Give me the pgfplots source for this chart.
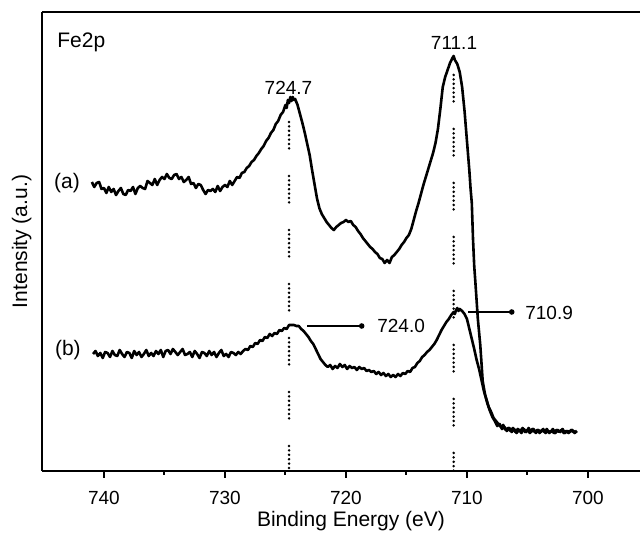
\documentclass[border=0pt]{standalone}
\usepackage{fontspec}
\setmainfont{Liberation Sans}
\usepackage{pgfplots}
\pgfplotsset{compat=1.18}

\pgfplotstableread{
x y
741.0 289
740.8 284
740.6 288
740.4 289
740.2 282
740.0 283
739.8 278
739.6 284
739.4 279
739.2 282
739.0 276
738.8 280
738.6 283
738.4 277
738.2 276
738.0 281
737.8 280
737.6 284
737.4 277
737.2 283
737.0 285
736.8 283
736.6 282
736.4 290
736.2 288
736.0 286
735.8 292
735.6 286
735.4 291
735.2 294
735.0 292
734.8 297
734.6 293
734.4 292
734.2 296
734.0 297
733.8 292
733.6 294
733.4 289
733.2 291
733.0 294
732.8 287
732.6 288
732.4 283
732.2 287
732.0 286
731.8 281
731.6 277
731.4 281
731.2 280
731.0 282
730.8 279
730.6 285
730.4 280
730.2 284
730.0 286
729.8 284
729.6 290
729.4 286
729.2 290
729.0 294
728.8 293
728.6 298
728.4 299
728.2 303
728.0 305
727.8 309
727.6 311
727.4 315
727.2 318
727.0 322
726.8 325
726.6 330
726.4 333
726.2 338
726.0 341
725.8 347
725.6 350
725.4 356
725.2 359
725.0 366
724.9 363
724.8 371
724.7 368
724.6 374
724.5 370
724.4 374
724.3 371
724.2 372
724.0 366
723.8 357
723.6 348
723.4 338
723.2 327
723.0 316
722.8 301
722.6 287
722.4 273
722.2 263
722.0 257
721.8 253
721.6 249
721.4 246
721.2 243
721.0 241
720.8 244
720.6 246
720.4 248
720.2 249
720.0 251
719.8 249
719.6 250
719.4 246
719.2 244
719.0 240
718.8 237
718.6 233
718.4 230
718.2 227
718.0 224
717.8 222
717.6 219
717.4 217
717.2 213
717.0 212
716.8 208
716.6 211
716.4 208
716.2 214
716.0 216
715.8 219
715.6 222
715.4 226
715.2 229
715.0 233
714.8 236
714.6 242
714.4 251
714.2 260
714.0 268
713.8 277
713.6 286
713.4 294
713.2 302
713.0 310
712.8 318
712.6 328
712.4 342
712.2 362
712.0 384
711.8 394
711.6 401
711.4 408
711.2 413
711.1 415
711.0 411
710.8 407
710.6 399
710.4 384
710.2 360
710.0 330
709.8 300
709.7 282
709.6 268
709.5 232
709.4 205
709.3 188
709.1 152
708.9 126
708.7 90
708.5 76
708.3 67
708.1 60
707.9 54
707.7 50
707.5 45
707.3 47
707.1 42
706.9 44
706.7 40
706.5 43
706.3 39
706.1 42
705.9 38
705.7 41
705.5 38
705.3 42
705.1 39
704.9 43
704.7 39
704.5 42
704.3 38
704.1 41
703.9 39
703.7 42
703.5 38
703.3 40
703.1 39
702.9 42
702.7 38
702.5 41
702.3 39
702.1 42
701.9 38
701.7 40
701.5 39
701.3 41
701.1 38
700.9 40
}\specA

\pgfplotstableread{
x y
740.9 117
740.7 120
740.5 115
740.3 118
740.1 113
739.9 119
739.7 118
739.5 114
739.3 120
739.1 116
738.9 115
738.7 121
738.5 117
738.3 114
738.1 119
737.9 118
737.7 113
737.5 120
737.3 116
737.1 119
736.9 114
736.7 117
736.5 121
736.3 115
736.1 118
735.9 115
735.7 120
735.5 117
735.3 121
735.1 114
734.9 120
734.7 121
734.5 117
734.3 122
734.1 119
733.9 116
733.7 119
733.5 122
733.3 116
733.1 117
732.9 119
732.7 114
732.5 120
732.3 117
732.1 113
731.9 119
731.7 118
731.5 115
731.3 120
731.1 116
730.9 119
730.7 114
730.5 118
730.3 121
730.1 115
729.9 117
729.7 114
729.5 119
729.3 118
729.1 116
728.9 119
728.7 117
728.5 120
728.3 122
728.1 121
727.9 125
727.7 124
727.5 128
727.3 127
727.1 131
726.9 130
726.7 134
726.5 133
726.3 137
726.1 135
725.9 138
725.7 137
725.5 141
725.3 140
725.1 143
724.9 142
724.7 146
724.5 146
724.3 146
724.1 145
723.9 145
723.7 142
723.5 140
723.3 137
723.1 134
722.9 130
722.7 127
722.5 122
722.3 117
722.1 112
721.9 109
721.7 106
721.5 104
721.3 106
721.1 102
720.9 105
720.7 103
720.5 107
720.3 104
720.1 106
719.9 102
719.7 105
719.5 103
719.3 104
719.1 101
718.9 104
718.7 102
718.5 103
718.3 100
718.1 101
717.9 99
717.7 100
717.5 97
717.3 99
717.1 96
716.9 98
716.7 95
716.5 97
716.3 94
716.1 96
715.9 94
715.7 97
715.5 95
715.3 98
715.1 97
714.9 100
714.7 99
714.5 103
714.3 104
714.1 108
713.9 110
713.7 114
713.5 116
713.3 119
713.1 121
712.9 124
712.7 127
712.5 131
712.3 136
712.1 141
711.9 145
711.7 149
711.5 152
711.3 156
711.1 159
711.0 157
710.9 161
710.8 163
710.7 160
710.6 162
710.4 160
710.2 157
710.0 152
709.8 142
709.6 132
709.4 122
709.2 111
709.0 102
708.8 91
708.6 80
708.4 72
708.2 64
708.0 59
707.8 53
707.6 50
707.4 47
707.2 44
707.0 46
706.8 41
706.6 43
706.4 40
706.2 43
706.0 39
705.8 42
705.6 40
705.4 43
705.2 39
705.0 41
704.8 38
704.6 42
704.4 39
704.2 41
704.0 38
703.8 41
703.6 39
703.4 42
703.2 38
703.0 40
702.8 38
702.6 41
702.4 39
702.2 41
702.0 38
701.8 40
701.6 38
701.4 41
701.2 39
701.0 40
}\specB

\tikzset{
  peakdots/.style={line width=1.4pt, line cap=round,
    dash pattern=on 0pt off 2.2pt on 0pt off 2.2pt on 0pt off 2.2pt on 0pt off 2.2pt on 0pt off 2.2pt on 0pt off 2.2pt on 0pt off 13.8pt},
  note/.style={font=\fontsize{9.5}{11}\selectfont, inner sep=0pt},
}

\begin{document}
\begin{tikzpicture}
\begin{axis}[
  scale only axis,
  width=299pt, height=229.5pt,
  x dir=reverse,
  xmin=695.7, xmax=745.12,
  ymin=0, ymax=459,
  axis x line=box, axis y line=left,
  axis line style={-, line width=1pt},
  xtick={700,710,720,730,740},
  minor x tick num=1,
  xtick pos=bottom,
  ytick=\empty,
  tick align=outside,
  major tick length=3.5pt, minor tick length=2pt,
  every tick/.style={black, line width=1pt},
  /pgf/number format/assume math mode=true,
  /pgf/number format/1000 sep={},
  xticklabel style={font=\fontsize{9.5}{11}\selectfont, yshift=-3pt},
  xlabel={Binding Energy (eV)},
  ylabel={Intensity (a.u.)},
  label style={font=\fontsize{10.5}{12}\selectfont},
  xlabel style={at={(axis description cs:0.5167,-0.122)}, anchor=base, inner sep=0pt},
  ylabel style={at={(axis description cs:-0.017,0.5)}, anchor=south, inner sep=0pt},
  clip=false,
]
\coordinate (O) at (rel axis cs:0,0);
\draw[peakdots] (axis cs:724.7,349) -- (axis cs:724.7,0);
\draw[peakdots] (axis cs:711.1,396) -- (axis cs:711.1,0);
\addplot[black, line width=1.3pt, line join=round] table {\specA};
\addplot[black, line width=1.3pt, line join=round] table {\specB};
\draw[line width=1pt] (axis cs:723.2,145) -- (axis cs:718.7,145);
\fill (axis cs:718.7,145) circle (1.4pt);
\draw[line width=1pt] (axis cs:709.9,159) -- (axis cs:706.3,159);
\fill (axis cs:706.3,159) circle (1.4pt);
\node[note, anchor=base west, font=\fontsize{10.5}{12}\selectfont] at (axis cs:743.88,423) {Fe2p};
\node[note, anchor=base] at (axis cs:724.75,376) {724.7};
\node[note, anchor=base] at (axis cs:711.07,421) {711.1};
\node[note, anchor=base, font=\fontsize{10.5}{12}\selectfont] at (axis cs:743.06,282) {(a)};
\node[note, anchor=base, font=\fontsize{10.5}{12}\selectfont] at (axis cs:742.98,115) {(b)};
\node[note, anchor=base west] at (axis cs:717.44,138) {724.0};
\node[note, anchor=base west] at (axis cs:705.21,151) {710.9};
\end{axis}
\pgfresetboundingbox
\path (O) ++(-21pt,-31pt) rectangle ++(320pt,266.5pt);
\end{tikzpicture}
\end{document}
